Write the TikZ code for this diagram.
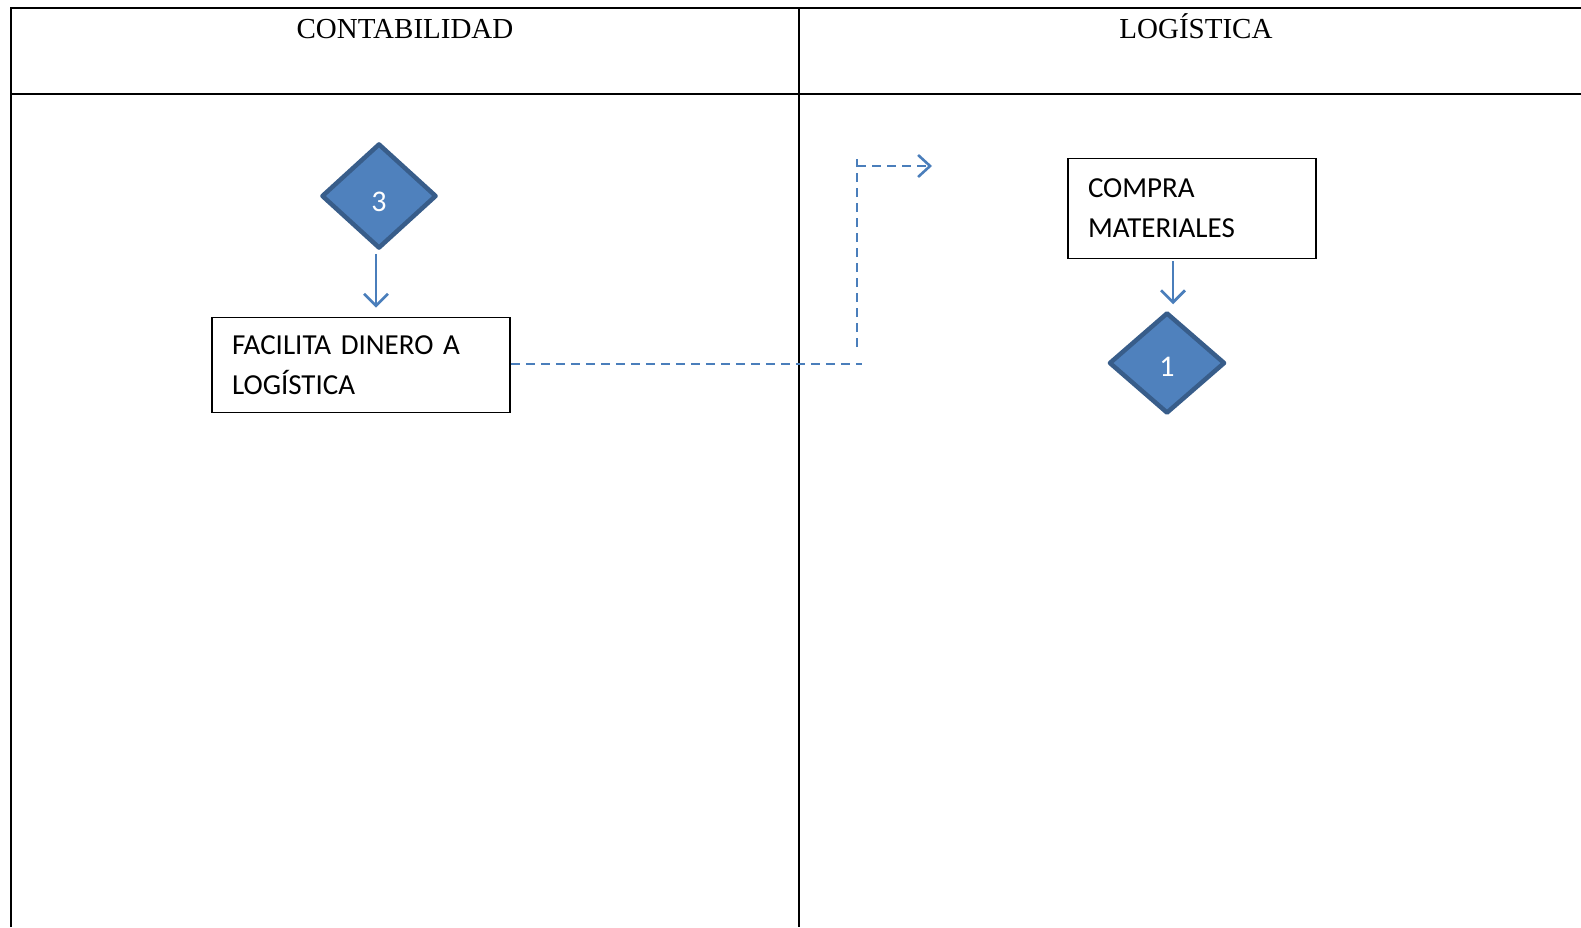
\documentclass[tikz,border=0pt]{standalone}
\usepackage{fontspec}
\setmainfont{Liberation Serif}
\newfontfamily\boxfont{Carlito}
\usetikzlibrary{arrows.meta,shapes.geometric}
\definecolor{flowblue}{HTML}{4F81BD}
\definecolor{flowedge}{HTML}{385D8A}
\definecolor{linkblue}{HTML}{4A7EBB}
\tikzset{
  grid/.style={line width=2pt, black},
  header/.style={font=\fontsize{29}{32}\selectfont, anchor=base},
  stepbox/.style={draw=black, line width=1.6pt, font=\boxfont\fontsize{29}{40}\selectfont,
    align=left, inner xsep=20pt, inner ysep=0pt, anchor=center},
  decision/.style={diamond, draw=flowedge, fill=flowblue, line width=4.5pt, line join=round,
    inner sep=0pt, text=white, font=\boxfont\fontsize{30}{32}\selectfont},
  flow/.style={draw=linkblue, line width=2.7pt, -{Straight Barb[length=12pt,width=24pt,line width=2.7pt]}},
  dashline/.style={draw=linkblue, line width=2.2pt, dash pattern=on 9pt off 6pt},
  dashflow/.style={dashline, -{Straight Barb[length=12pt,width=22pt,line width=2.6pt]}}
}
\begin{document}
\begin{tikzpicture}[x=1pt,y=-1pt]
  \useasboundingbox (0,0) rectangle (1581,927);
  % table frame
  \draw[grid] (11,927) -- (11,8) -- (1581,8);
  \draw[grid] (11,94) -- (1581,94);
  \draw[grid] (799,8) -- (799,927);
  \node[header] (hcont) at (405,38) {CONTABILIDAD};
  \node[header] (hlog) at (1196,38) {LOGÍSTICA};

  % contabilidad lane
  \node[decision, minimum width=115pt, minimum height=105pt] (d3) at (379,196)
    {\raisebox{-15.5pt}[0pt][0pt]{3}};
  \node[stepbox, minimum width=298pt, minimum height=95pt, text width=258pt] (facilita) at (361,365)
    {FACILITA DINERO A\\LOGÍSTICA};
  \draw[flow] (d3.south) ++(-3,3) coordinate (d3out) -- ([yshift=9pt]d3out |- facilita.north);

  % logistica lane
  \node[stepbox, minimum width=248pt, minimum height=100pt, text width=208pt] (compra) at (1192,208.5)
    {COMPRA\\MATERIALES};
  \node[decision, minimum width=116pt, minimum height=101pt] (d1) at (1167,363)
    {\raisebox{-13.5pt}[0pt][0pt]{1}};
  \coordinate (cin) at (1173,261);
  \draw[flow] (cin) -- ([yshift=6pt]cin |- d1.north);

  % dashed link between lanes
  \coordinate (runend) at (862,364);
  \coordinate (risebot) at (857,347);
  \coordinate (risetop) at (857,159);
  \coordinate (turn) at (857,166);
  \coordinate (tip) at (932,166);
  \draw[dashline] (facilita.east |- runend) -- (runend);
  \draw[dashline] (risebot) -- (risetop);
  \draw[dashflow] (turn) -- (tip);
\end{tikzpicture}
\end{document}
